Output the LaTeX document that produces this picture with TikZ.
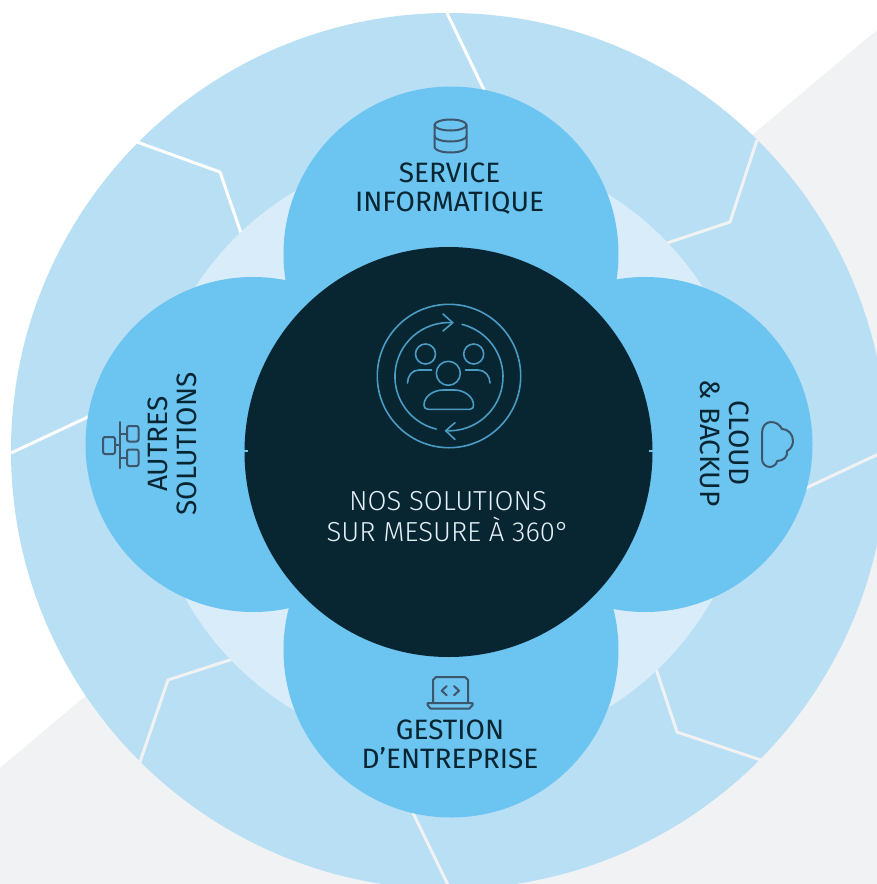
\documentclass[tikz,border=0pt]{standalone}
\usepackage{fontspec}
\setmainfont{Fira Sans}
\newfontfamily\corefont{Fira Sans Light}
\definecolor{ringblue}{HTML}{B9DFF5}
\definecolor{paleblue}{HTML}{D8EDF9}
\definecolor{petalblue}{HTML}{6CC4F0}
\definecolor{coredark}{HTML}{082532}
\definecolor{sheetgrey}{HTML}{F1F2F4}
\definecolor{iconline}{HTML}{3D566B}
\definecolor{coreicon}{HTML}{4A9CC4}
\definecolor{coretext}{HTML}{E4F0F7}
\tikzset{
    petal/.style={fill=petalblue},
    seam/.style={draw=#1,line width=3,line join=miter},
    petaltext/.style={text=coredark,align=center,font=\fontsize{28}{29}\selectfont,inner sep=0},
    coretxt/.style={text=coretext,align=center,font=\corefont\fontsize{27.5}{31}\selectfont,inner sep=0},
    icon/.style={draw=iconline,line width=2,line join=round,line cap=round},
    peopleicon/.style={draw=coreicon,line width=1.6,line join=round,line cap=round}
}
\begin{document}
\begin{tikzpicture}[x=1pt,y=-1pt]
    \path[use as bounding box] (0,0) rectangle (877,884);
    \clip (0,0) rectangle (877,884);
    \fill[white] (0,0) rectangle (877,884);
    \fill[sheetgrey] (877,30) -- (0,768) -- (0,884) -- (877,884) -- cycle;
    % circles
    \coordinate (mid) at (449,451);
    \fill[ringblue] (mid) circle (438);
    % seams
    \draw[seam=white] (447,13) -- (485,92);
    \draw[seam=white] (137,142) -- (220,172) -- (242,236);
    \draw[seam=white] (11,453) -- (90,416);
    \draw[seam=sheetgrey] (757,140) -- (730,222) -- (664,244);
    \draw[seam=sheetgrey] (885,451) -- (806,488);
    \draw[seam=sheetgrey] (655,666) -- (677,732) -- (761,760);
    \draw[seam=sheetgrey] (413,813) -- (450,889);
    \draw[seam=sheetgrey] (140,762) -- (168,680) -- (236,658);
    \fill[paleblue] (mid) circle (302);
    % petals
    \fill[petal] (451,254) circle (167.5);
    \fill[petal] (451,650) circle (167.5);
    \fill[petal] (253,444.5) circle (167.5);
    \fill[petal] (645,444.5) circle (167.5);
    \fill[coredark] (448.5,452) ellipse [x radius=204,y radius=205];
    \draw[petalblue,line width=1.5] (244,451) -- (248,451);
    \draw[petalblue,line width=1.5] (649,451) -- (653,451);
    % labels
    \node[petaltext] (service) at (449.5,189) {SERVICE\\INFORMATIQUE};
    \node[petaltext] (gestion) at (450,744) {GESTION\\D’ENTREPRISE};
    \node[petaltext,rotate=90] (autres) at (172,444) {AUTRES\\SOLUTIONS};
    \node[petaltext,rotate=-90] (cloud) at (725,443) {CLOUD\\\& BACKUP};
    \node[coretxt] (core) at (448,517) {NOS SOLUTIONS\\SUR MESURE À 360°};
    % database
    \draw[icon] (434.5,125) arc[start angle=180,end angle=540,x radius=16,y radius=5.5];
    \draw[icon] (434.5,125) -- (434.5,147) arc[start angle=180,end angle=0,x radius=16,y radius=5.5] -- (466.5,125);
    \draw[icon] (434.5,136) arc[start angle=180,end angle=0,x radius=16,y radius=5.5];
    % laptop
    \draw[icon] (433,702.5) -- (433,680) -- ++(3,-3) -- (465,677) -- ++(3,3) -- (468,702.5);
    \draw[icon] (427.5,703) -- (472.5,703) -- (472.5,705) -- ++(-3,3.5) -- (430.5,708.5) -- ++(-3,-3.5) -- cycle;
    \draw[icon] (446.7,686) -- (441.7,690.7) -- (446.7,695.3);
    \draw[icon] (454,686) -- (459,690.7) -- (454,695.3);
    % network
    \draw[icon] (120,422) -- (120,468);
    \draw[icon,rounded corners=2] (103,437) rectangle (115,454);
    \draw[icon,rounded corners=2] (127,426) rectangle (138.5,441.5);
    \draw[icon,rounded corners=2] (127,449.5) rectangle (138.5,466);
    \draw[icon] (115,445) -- (120,445);
    \draw[icon] (120,434) -- (127,434);
    \draw[icon] (120,458) -- (127,458);
    % cloud
    \draw[icon] (762,433) .. controls (762,426) and (766,422) .. (771,422)
        .. controls (776,422) and (780,425) .. (782,429)
        .. controls (788,429) and (793,434) .. (793,441)
        .. controls (793,445) and (791,449) .. (787,451)
        .. controls (788,456) and (784,461) .. (777,461)
        .. controls (777,464) and (773,467) .. (770,467)
        .. controls (765,467) and (762,463) .. (762,459) -- cycle;
    % people
    \draw[peopleicon] (449,376) circle (71.7);
    \draw[peopleicon] (452.7,322.7) arc[start angle=-86,end angle=-256.5,radius=54];
    \draw[peopleicon] (445.7,430.7) arc[start angle=93.5,end angle=-76,radius=54];
    \draw[peopleicon] (443,314) -- (452.7,322.7) -- (443,331);
    \draw[peopleicon] (455,422.7) -- (445.7,430.7) -- (455,439.5);
    \draw[peopleicon] (425.5,354) circle (10);
    \draw[peopleicon] (473.7,354) circle (10);
    \draw[peopleicon] (448.3,373.3) circle (12);
    \draw[peopleicon] (431.7,370) -- (419,370) .. controls (412,370) and (407.5,376) .. (407.5,383);
    \draw[peopleicon] (465.5,370) -- (478,370) .. controls (485,370) and (490,376) .. (490,383);
    \draw[peopleicon] (428,409.3) -- (470,409.3) .. controls (473,409.3) and (473.5,407) .. (473.5,405)
        .. controls (473.5,396) and (463,390) .. (455,390) -- (443,390)
        .. controls (434,390) and (424,396) .. (424,405)
        .. controls (424,407) and (425,409.3) .. (428,409.3) -- cycle;
\end{tikzpicture}
\end{document}
